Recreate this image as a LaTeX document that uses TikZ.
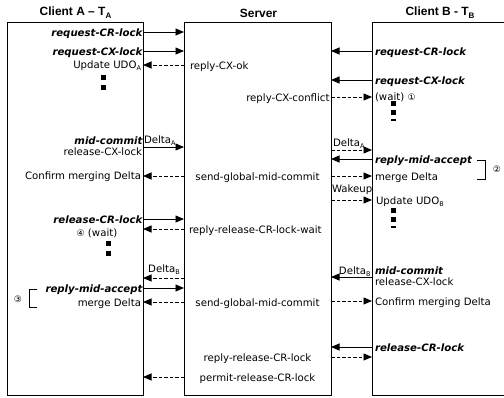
\documentclass[tikz,border=0pt]{standalone}
\usepackage{fontspec}
\setmainfont{DejaVu Sans}
\newfontfamily\headfont{Liberation Sans}
\usetikzlibrary{arrows.meta}

% small subscript used in labels such as UDO_A, Delta_B, T_A
\newcommand\lsub[1]{\raisebox{-0.4ex}{\fontsize{6.5}{7}\selectfont #1}}
\newcommand\hsub[1]{\raisebox{-0.45ex}{\fontsize{8}{9}\selectfont #1}}
\newcommand\circnum[1]{{\fontsize{9}{10}\selectfont #1}}

\tikzset{
  lane/.style={draw, line width=0.9bp, inner sep=0pt, outer sep=0pt},
  msg/.style={font=\fontsize{10.2}{12}\selectfont, inner sep=0pt, outer sep=0pt},
  call/.style={font=\fontsize{10.2}{12}\selectfont\bfseries\itshape, inner sep=0pt, outer sep=0pt},
  head/.style={font=\headfont\bfseries\fontsize{12}{14}\selectfont, inner sep=0pt},
  send/.style={-{Triangle[length=8.5bp,width=7bp]}, line width=0.9bp},
  back/.style={-{Triangle[length=8.5bp,width=7bp]}, line width=0.9bp, dash pattern=on 3.5bp off 2bp},
  blk/.style={fill, minimum size=5bp, inner sep=0pt, outer sep=0pt},
  dsh/.style={fill, minimum width=5bp, minimum height=1.3bp, inner sep=0pt, outer sep=0pt},
  brk/.style={line width=0.8bp},
}

\begin{document}
\begin{tikzpicture}[x=1bp, y=-1bp]
\useasboundingbox (0,0) rectangle (504,397);

% lifeline boxes
\node[lane, minimum width=136bp, minimum height=373bp] (A) at (75,208.5) {};
\node[lane, minimum width=147bp, minimum height=373bp] (S) at (257.5,208.5) {};
\node[lane, minimum width=150bp, minimum height=373bp] (B) at (447,208.5) {};

% headings
\node[head] (hA) at (75.5,13) {Client A – T\hsub{A}};
\node[head] (hS) at (258.5,13) {Server};
\node[head] (hB) at (440,13) {Client B - T\hsub{B}};

% ---- Client A texts
\node[call, anchor=base east] (aCR) at (142.5,36) {request-CR-lock};
\node[call, anchor=base east] (aCX) at (142.5,55) {request-CX-lock};
\node[msg, anchor=base east] (aUDO) at (141,68) {Update UDO\lsub{A}};
\node[blk] (ad1) at (103,77) {};
\node[blk] (ad2) at (103,87) {};
\node[call, anchor=base east] (aMid) at (142.5,144) {mid-commit};
\node[msg, anchor=base east] (aRel) at (142,155) {release-CX-lock};
\node[msg, anchor=base east] (aConf) at (141,179.5) {Confirm merging Delta};
\node[call, anchor=base east] (aRCR) at (142.5,223) {release-CR-lock};
\node[msg, anchor=base] (aWait) at (97,236.5) {\circnum{④} (wait)};
\node[blk] (ad3) at (108,243) {};
\node[blk] (ad4) at (108,253) {};
\node[call, anchor=base east] (aAcc) at (142.5,292) {reply-mid-accept};
\node[msg, anchor=base east] (aMrg) at (141,306) {merge Delta};
\node[msg] (n3) at (18,299) {\circnum{③}};
\draw[brk] (37,289) -- (29,289) -- (29,307.5) -- (37,307.5);

% ---- Server texts
\node[msg, anchor=base west] (sOk) at (190,69) {reply-CX-ok};
\node[msg, anchor=base east] (sConf) at (329.5,101) {reply-CX-conflict};
\node[msg, anchor=base] (sG1) at (257.5,180) {send-global-mid-commit};
\node[msg, anchor=base west] (sWait) at (189,233) {reply-release-CR-lock-wait};
\node[msg, anchor=base] (sG2) at (257.5,306) {send-global-mid-commit};
\node[msg, anchor=base] (sRel) at (257.5,361) {reply-release-CR-lock};
\node[msg, anchor=base] (sPer) at (257.5,381) {permit-release-CR-lock};

% ---- labels in the gaps
\node[msg, anchor=base west] (gDA) at (144,143) {Delta\lsub{A}};
\node[msg, anchor=base] (gDB) at (164,272) {Delta\lsub{B}};
\node[msg, anchor=base west] (gDA2) at (333,146) {Delta\lsub{A}};
\node[msg, anchor=base west] (gWk) at (332,192) {Wakeup};
\node[msg, anchor=base east] (gDB2) at (370.5,274) {Delta\lsub{B}};

% ---- Client B texts
\node[call, anchor=base west] (bCR) at (375,55) {request-CR-lock};
\node[call, anchor=base west] (bCX) at (375,84) {request-CX-lock};
\node[msg, anchor=base west] (bWait) at (375,100) {(wait) \circnum{①}};
\node[blk] (bd1) at (393,103.5) {};
\node[blk] (bd2) at (393,112) {};
\node[dsh] (bd3) at (393,120) {};
\node[call, anchor=base west] (bAcc) at (375,163) {reply-mid-accept};
\node[msg, anchor=base west] (bMrg) at (375,180) {merge Delta};
\node[msg, anchor=base west] (bUDO) at (376,204) {Update UDO\lsub{B}};
\node[blk] (bd4) at (393,210.5) {};
\node[blk] (bd5) at (393,219) {};
\node[dsh] (bd6) at (393,227) {};
\node[call, anchor=base west] (bMid) at (375,274) {mid-commit};
\node[msg, anchor=base west] (bRel) at (375,285) {release-CX-lock};
\node[msg, anchor=base west] (bConf) at (375,305) {Confirm merging Delta};
\node[call, anchor=base west] (bRCR) at (375,351) {release-CR-lock};
\draw[brk] (477,160) -- (485,160) -- (485,179) -- (477,179);
\node[msg] (n2) at (497,169) {\circnum{②}};

% ---- messages between Client A and the server
\draw[send] (A.east |- 0,32)  -- (S.west |- 0,32);
\draw[send] (A.east |- 0,51)  -- (S.west |- 0,51);
\draw[back] (S.west |- 0,65)  -- (A.east |- 0,65);
\draw[send] (A.east |- 0,147) -- (S.west |- 0,147);
\draw[back] (S.west |- 0,176) -- (A.east |- 0,176);
\draw[send] (A.east |- 0,219) -- (S.west |- 0,219);
\draw[back] (S.west |- 0,229) -- (A.east |- 0,229);
\draw[back] (S.west |- 0,278) -- (A.east |- 0,278);
\draw[send] (A.east |- 0,288) -- (S.west |- 0,288);
\draw[back] (S.west |- 0,302) -- (A.east |- 0,302);
\draw[back] (S.west |- 0,377) -- (A.east |- 0,377);

% ---- messages between Client B and the server
\draw[send] (B.west |- 0,51)  -- (S.east |- 0,51);
\draw[send] (B.west |- 0,80)  -- (S.east |- 0,80);
\draw[back] (S.east |- 0,97)  -- (B.west |- 0,97);
\draw[back] (S.east |- 0,150) -- (B.west |- 0,150);
\draw[send] (B.west |- 0,159) -- (S.east |- 0,159);
\draw[back] (S.east |- 0,176) -- (B.west |- 0,176);
\draw[back] (S.east |- 0,200) -- (B.west |- 0,200);
\draw[send] (B.west |- 0,277) -- (S.east |- 0,277);
\draw[back] (S.east |- 0,301) -- (B.west |- 0,301);
\draw[send] (B.west |- 0,347) -- (S.east |- 0,347);
\draw[back] (S.east |- 0,357) -- (B.west |- 0,357);
\end{tikzpicture}
\end{document}
